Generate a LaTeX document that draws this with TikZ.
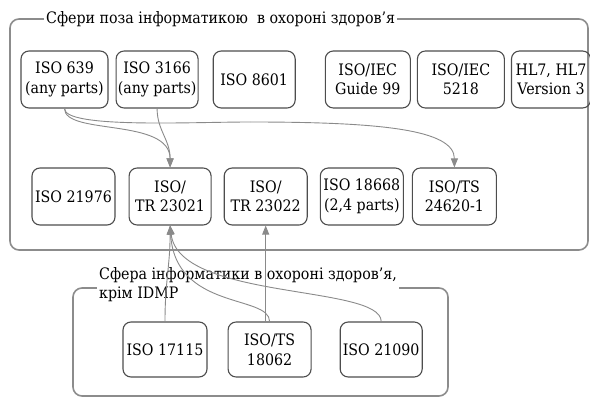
\documentclass[tikz,border=0pt]{standalone}
\usepackage{fontspec}
\newfontfamily\isofont{DejaVu Serif Condensed}
\usetikzlibrary{arrows.meta,positioning}
\definecolor{isoframe}{HTML}{8C8C8C}
\definecolor{isobox}{HTML}{4D4D4D}
\definecolor{isolink}{HTML}{8A8A8A}

\begin{document}
\begin{tikzpicture}[x=1pt,y=-1pt,
  std/.style={draw=isobox,line width=1.1pt,rounded corners=8pt,minimum height=57pt,minimum width=82pt,inner sep=1.5pt,align=center,font=\isofont\fontsize{15.8}{19.5}\selectfont},
  zone/.style={draw=isoframe,line width=1.6pt,rounded corners=9pt},
  ttl/.style={fill=white,inner sep=2pt,font=\isofont\fontsize{15.8}{19.5}\selectfont},
  link/.style={draw=isolink,line width=0.9pt},
  >={Triangle[length=9pt,width=7pt]}]
\useasboundingbox (0,0) rectangle (590,398);
% frames
\draw[zone] (10,19) rectangle (588,250);
\draw[zone] (73,288) rectangle (448,396);
\node[ttl,anchor=west] (outerttl) at (44,19) {Сфери поза інформатикою \ в охороні здоров’я};
\node[ttl,anchor=north west,align=left] (innerttl) at (97,265) {Сфера інформатики в охороні здоров’я,\\крім IDMP};
% top row
\node[std,minimum width=87pt] (iso639) at (64.5,79.5) {ISO 639\\(any parts)};
\node[std,right=7pt of iso639] (iso3166) {ISO 3166\\(any parts)};
\node[std,right=14pt of iso3166] (iso8601) {ISO 8601};
\node[std,minimum width=85pt,right=29pt of iso8601] (guide99) {ISO/IEC\\Guide 99};
\node[std,minimum width=87pt,right=6pt of guide99] (iec5218) {ISO/IEC\\5218};
\node[std,minimum width=79pt,right=6pt of iec5218] (hl7) {HL7, HL7\\Version 3};
% second row
\node[std,minimum width=83pt] (iso21976) at (73.5,196.5) {ISO 21976};
\node[std,right=13pt of iso21976] (tr23021) {ISO/\\TR 23021};
\node[std,minimum width=83pt,right=12pt of tr23021] (tr23022) {ISO/\\TR 23022};
\node[std,minimum width=83pt,right=12pt of tr23022] (iso18668) {ISO 18668\\(2,4 parts)};
\node[std,minimum width=84pt,right=8pt of iso18668] (ts24620) {ISO/TS\\24620-1};
% informatics row
\node[std,minimum width=84pt,minimum height=55pt] (iso17115) at (165,349.5) {ISO 17115};
\node[std,minimum width=83pt,minimum height=55pt,right=20pt of iso17115] (ts18062) {ISO/TS\\18062};
\node[std,minimum height=55pt,right=28pt of ts18062] (iso21090) {ISO 21090};
% links
\coordinate (bend) at (250,122);
\draw[link,->] (iso639.south) .. controls +(0,27) and +(0,-50) .. (tr23021.north);
\draw[link,->] (iso3166.south) .. controls +(0,22) and +(0,-28) .. (tr23021.north);
\draw[link] (iso639.south) .. controls +(0,20) and +(-60,0) .. (bend);
\draw[link,->] (bend) .. controls +(130,0) and +(0,-38) .. (ts24620.north);
\draw[link,->] (iso17115.north) .. controls +(0,-40) and +(0,40) .. (tr23021.south);
\draw[link,->] (ts18062.north) .. controls +(0,-27) and +(5,85) .. (tr23021.south);
\draw[link,->] (iso21090.north) .. controls +(0,-37) and +(9,75) .. (tr23021.south);
\draw[link,->] (tr23022.south |- ts18062.north) -- (tr23022.south);
\end{tikzpicture}
\end{document}
